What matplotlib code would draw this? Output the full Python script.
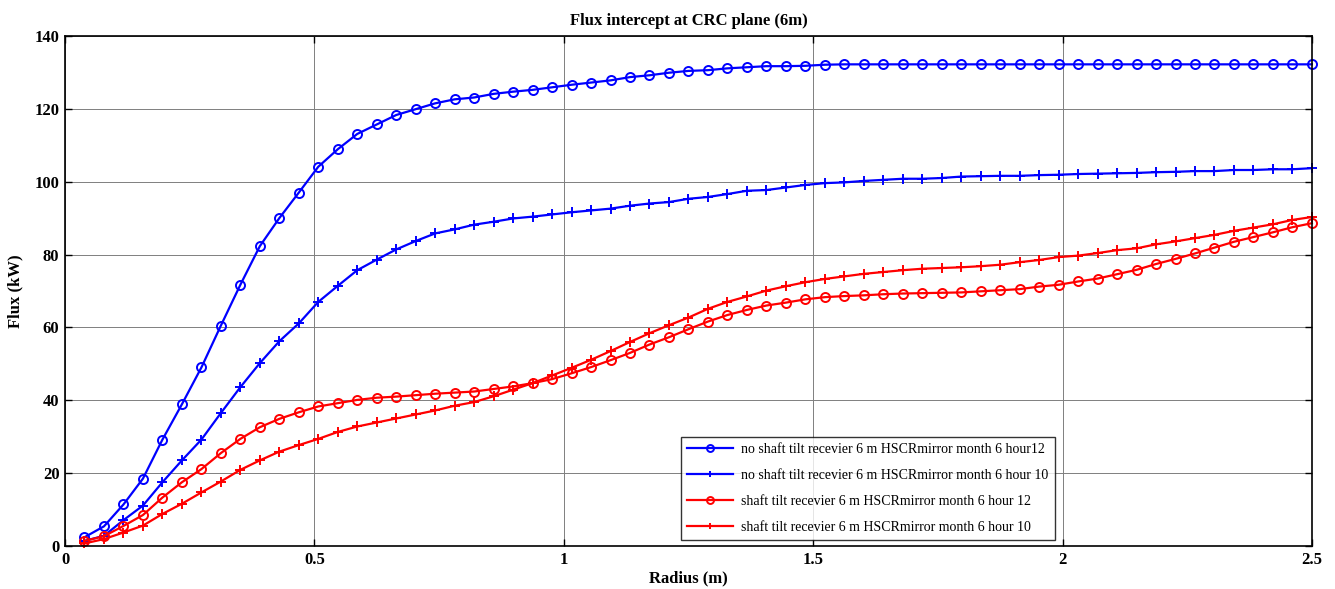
import numpy as np
import matplotlib
matplotlib.use("Agg")
import matplotlib.pyplot as plt

# Radius samples (m)
radius = np.arange(1, 65) * 2.5 / 64

# Flux (kW)
no_tilt_h12 = [2.4, 5.4, 11.4, 18.5, 29.2, 38.9, 49.0, 60.5, 71.7, 82.3,
               90.0, 97.0, 104.1, 108.9, 113.1, 115.7, 118.3, 119.9, 121.5, 122.6,
               123.1, 124.1, 124.7, 125.2, 125.9, 126.6, 127.2, 127.8, 128.7, 129.2,
               129.9, 130.4, 130.6, 131.1, 131.4, 131.7, 131.7, 131.8, 132.1, 132.2,
               132.2, 132.2, 132.2, 132.2, 132.2, 132.2, 132.2, 132.2, 132.2, 132.2,
               132.2, 132.2, 132.2, 132.2, 132.2, 132.2, 132.2, 132.2, 132.2, 132.2,
               132.2, 132.2, 132.2, 132.2]
no_tilt_h10 = [1.4, 2.8, 7.1, 11.1, 17.5, 23.5, 29.2, 36.5, 43.6, 50.2,
               56.2, 61.1, 67.0, 71.4, 75.7, 78.6, 81.4, 83.7, 85.8, 86.9,
               88.2, 89.0, 89.9, 90.4, 91.0, 91.6, 92.1, 92.6, 93.4, 94.0,
               94.4, 95.3, 95.8, 96.6, 97.5, 97.7, 98.4, 99.1, 99.6, 99.8,
               100.2, 100.5, 100.8, 100.8, 101.0, 101.4, 101.5, 101.6, 101.6, 101.8,
               101.9, 102.1, 102.2, 102.3, 102.4, 102.6, 102.7, 102.9, 102.9, 103.2,
               103.2, 103.4, 103.4, 103.7]
tilt_h12 = [1.4, 2.7, 5.5, 8.5, 13.3, 17.5, 21.1, 25.5, 29.4, 32.6,
            34.9, 36.7, 38.3, 39.2, 40.1, 40.7, 41.0, 41.4, 41.8, 42.1,
            42.4, 43.1, 43.8, 44.7, 45.8, 47.4, 49.1, 51.0, 53.0, 55.3,
            57.3, 59.5, 61.6, 63.4, 64.8, 66.0, 66.8, 67.7, 68.3, 68.6,
            68.8, 69.1, 69.3, 69.4, 69.5, 69.6, 69.9, 70.2, 70.5, 71.2,
            71.7, 72.6, 73.4, 74.6, 75.8, 77.4, 78.8, 80.3, 81.9, 83.5,
            84.8, 86.1, 87.5, 88.6]
tilt_h10 = [0.7, 1.9, 3.7, 5.6, 8.8, 11.6, 14.7, 17.7, 20.9, 23.5,
            25.9, 27.7, 29.4, 31.3, 32.8, 33.9, 35.0, 36.1, 37.2, 38.5,
            39.5, 41.1, 42.9, 44.7, 46.8, 48.9, 51.1, 53.5, 56.0, 58.4,
            60.6, 62.7, 65.1, 67.0, 68.5, 70.1, 71.3, 72.4, 73.3, 74.0,
            74.7, 75.2, 75.7, 76.1, 76.3, 76.5, 76.8, 77.2, 77.9, 78.5,
            79.3, 79.7, 80.4, 81.2, 81.7, 82.8, 83.6, 84.5, 85.4, 86.5,
            87.4, 88.3, 89.5, 90.3]

labels = [
    "no shaft tilt recevier 6 m HSCRmirror month 6 hour12",
    "no shaft tilt recevier 6 m HSCRmirror month 6 hour 10",
    "shaft tilt recevier 6 m HSCRmirror month 6 hour 12",
    "shaft tilt recevier 6 m HSCRmirror month 6 hour 10",
]
x_ticks = [0, 0.5, 1, 1.5, 2, 2.5]
x_ticklabels = ["0", "0.5", "1", "1.5", "2", "2.5"]
y_ticks = [0, 20, 40, 60, 80, 100, 120, 140]

plt.rcParams["font.family"] = ["Liberation Serif", "DejaVu Serif"]

fig = plt.figure(figsize=(13.35, 5.89), dpi=100)
ax = fig.add_axes([0.0487, 0.073, 0.934, 0.866])

series = [
    (no_tilt_h12, "blue", "o"),
    (no_tilt_h10, "blue", "+"),
    (tilt_h12, "red", "o"),
    (tilt_h10, "red", "+"),
]
for (vals, col, mk), lab in zip(series, labels):
    if mk == "o":
        ax.plot(radius, vals, color=col, lw=1.6, marker="o", ms=6.5,
                mfc="none", mec=col, mew=1.4, label=lab, clip_on=False)
    else:
        ax.plot(radius, vals, color=col, lw=1.6, marker="+", ms=7.5,
                mew=1.4, label=lab, clip_on=False)

ax.set_xlim(0, 2.5)
ax.set_ylim(0, 140)
ax.set_xticks(x_ticks)
ax.set_xticklabels(x_ticklabels)
ax.set_yticks(y_ticks)
ax.grid(True, color="#7f7f7f", lw=0.7)
ax.tick_params(direction="in", top=True, right=True, length=5, width=1,
               labelsize=12, pad=4)
for lbl in ax.get_xticklabels() + ax.get_yticklabels():
    lbl.set_fontweight("bold")
for sp in ax.spines.values():
    sp.set_linewidth(1.2)

ax.set_xlabel("Radius (m)", fontsize=12, fontweight="bold", labelpad=2)
ax.set_ylabel("Flux (kW)", fontsize=12, fontweight="bold", labelpad=8)
ax.set_title("Flux intercept at CRC plane (6m)", fontsize=12,
             fontweight="bold", pad=8)

leg = ax.legend(loc="lower left", bbox_to_anchor=(0.494, 0.012),
                fontsize=10.0, numpoints=1, handlelength=3.3,
                handletextpad=0.6, borderpad=0.45, labelspacing=0.92,
                frameon=True, fancybox=False, borderaxespad=0)
leg.get_frame().set_edgecolor("black")
leg.get_frame().set_linewidth(1.0)
for h in leg.legend_handles:
    h.set_markersize(5)

fig.savefig("out.png", dpi=100)
